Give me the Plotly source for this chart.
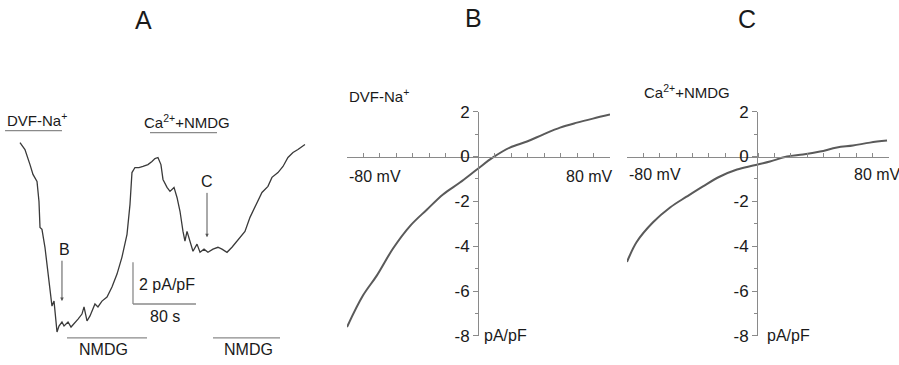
import plotly.graph_objects as go

# ---------------- data ----------------
# Panel A: current trace (time in s, current density in pA/pF, relative)
trace_t = [0, 6.3, 12.7, 16.5, 21.6, 24.1, 25.4, 27.9, 31.7, 35.6, 39.4, 40.6, 43.2, 45.7, 47.0,
           49.5, 53.3, 55.9, 61.0, 64.8, 68.6, 73.7, 78.7, 81.3, 85.1, 88.9, 95.2, 99.0, 104.1,
           110.5, 116.8, 123.2, 129.5, 135.9, 139.7, 142.2, 146.0, 151.1, 156.2, 162.5, 167.6,
           171.4, 175.2, 179.0, 181.6, 186.7, 190.5, 195.6, 199.4, 203.2, 207.0, 209.5, 212.1,
           215.9, 219.7, 224.8, 228.6, 233.7, 238.7, 245.1, 251.4, 256.5, 262.9, 269.2, 275.6,
           281.9, 285.7, 292.1, 298.4, 307.3, 314.9, 320.0, 327.6, 334.0, 340.3, 346.7, 353.0, 361.9]
trace_i = [-0.05, -0.38, -1.10, -1.57, -1.90, -2.86, -4.10, -4.19, -5.05, -6.33, -7.62, -7.86, -7.62,
           -8.48, -9.10, -8.81, -8.62, -8.81, -8.62, -8.86, -8.71, -8.48, -8.24, -7.90, -8.57, -8.33,
           -7.76, -7.90, -7.62, -7.43, -6.95, -6.33, -5.52, -4.43, -3.00, -1.48, -1.24, -1.24, -1.19,
           -1.10, -0.95, -0.81, -0.76, -1.10, -1.81, -2.19, -2.38, -2.19, -2.67, -3.33, -4.29, -4.76,
           -4.29, -4.76, -5.24, -4.90, -5.29, -5.14, -5.29, -5.14, -5.05, -5.14, -5.29, -5.05, -4.76,
           -4.43, -4.29, -3.62, -3.10, -2.43, -2.14, -1.71, -1.48, -1.19, -0.76, -0.52, -0.38, -0.14]

# Panel B: I-V in DVF-Na+
ivB_v = [-80, -70.3, -61.8, -52, -41.7, -31.3, -21.6, -11.3, -1, 8.8, 19.1, 29.5, 39.2, 49.6, 59.9, 69.6, 80]
ivB_i = [-7.6, -6.2, -5.3, -4.1, -3.1, -2.36, -1.69, -1.16, -0.58, -0.04, 0.4, 0.67, 0.98, 1.29, 1.51, 1.69, 1.87]

# Panel C: I-V in Ca2+ + NMDG
ivC_v = [-80, -74, -64.1, -53.7, -43.4, -33.6, -23.2, -12.8, -3, 7.3, 17.7, 27.5, 37.9, 48.2, 58, 68.4, 78.8]
ivC_i = [-4.7, -3.8, -2.93, -2.27, -1.78, -1.33, -0.89, -0.58, -0.4, -0.22, 0, 0.09, 0.22, 0.4, 0.49, 0.62, 0.71]

y_ticks = [2, 0, -2, -4, -6, -8]
y_tick_text = ["2", "0", "-2", "-4", "-6", "-8"]
x_ticks = list(range(-80, 81, 10))

W, H = 899, 365
FONT = "Liberation Sans, Arial, sans-serif"
AXC = "#8a8a8a"
TXT = "#1a1a1a"

# vertical placement calibration (screen px -> figure px)
SY, OY = 0.951, 9.0


def px(x):
    return x / W


def py(y):
    return min(1.0, max(0.0, 1 - ((y - OY) / SY) / H))


fig = go.Figure()

fig.add_trace(go.Scatter(x=trace_t, y=trace_i, mode="lines", xaxis="x", yaxis="y",
                         line=dict(color="#3a3a3a", width=1.3), showlegend=False, hoverinfo="skip"))
fig.add_trace(go.Scatter(x=ivB_v, y=ivB_i, mode="lines", xaxis="x2", yaxis="y2",
                         line=dict(color="#5a5a5a", width=2, shape="spline"), showlegend=False))
fig.add_trace(go.Scatter(x=ivC_v, y=ivC_i, mode="lines", xaxis="x3", yaxis="y3",
                         line=dict(color="#5a5a5a", width=2, shape="spline"), showlegend=False))

ydom = [py(337), py(112)]
x_axis_common = dict(range=[-80, 80], anchor="free", position=py(157), showline=True, linecolor=AXC,
                     linewidth=1, ticks="inside", ticklen=4, tickcolor=AXC, tickvals=x_ticks,
                     showticklabels=False, showgrid=False, zeroline=False, fixedrange=True)
y_axis_common = dict(range=[-8, 2], domain=ydom, anchor="free", showline=True, linecolor=AXC,
                     linewidth=1, ticks="outside", ticklen=5, tickcolor=AXC, tickvals=y_ticks,
                     ticktext=y_tick_text,
                     tickfont=dict(size=17, color=TXT, family=FONT), showgrid=False, zeroline=False,
                     minor=dict(dtick=1, ticks="outside", ticklen=3, tickcolor=AXC),
                     fixedrange=True)

# panel A: screen rows map to current (142 - row) / 21
A_top, A_bot = 100, 355
fig.update_layout(
    width=W, height=H, margin=dict(l=0, r=0, t=0, b=0),
    paper_bgcolor="white", plot_bgcolor="rgba(0,0,0,0)",
    font=dict(family=FONT, color=TXT),
    xaxis=dict(domain=[0, px(320)], range=[-25.4, 381], visible=False, fixedrange=True),
    yaxis=dict(domain=[py(A_bot), py(A_top)], range=[(142 - A_bot) / 21, (142 - A_top) / 21],
               visible=False, fixedrange=True),
    xaxis2=dict(domain=[px(347), px(610)], **x_axis_common),
    yaxis2=dict(position=px(478), **y_axis_common),
    xaxis3=dict(domain=[px(627), px(889)], **x_axis_common),
    yaxis3=dict(position=px(757), **y_axis_common),
)

ann = []


def paper_text(text, x, y, size=15, xanchor="left"):
    ann.append(dict(text=text, x=px(x), y=py(y), xref="paper", yref="paper", xanchor=xanchor,
                    yanchor="middle", showarrow=False, font=dict(size=size, color=TXT, family=FONT)))


def data_text(text, x, y, size=16, xanchor="center"):
    ann.append(dict(text=text, x=x, y=y, xref="x", yref="y", xanchor=xanchor, yanchor="middle",
                    showarrow=False, font=dict(size=size, color=TXT, family=FONT)))


# Panel titles
paper_text("A", 143, 20, size=25, xanchor="center")
paper_text("B", 473, 18, size=25, xanchor="center")
paper_text("C", 747, 19, size=25, xanchor="center")

# Panel A labels and solution bars
data_text("DVF-Na<sup>+</sup>", -19.0, 1.05, size=15, xanchor="left")
data_text("Ca<sup>2+</sup>+NMDG", 212, 0.95, size=15)
data_text("NMDG", 106, -9.92)
data_text("NMDG", 290.8, -9.92)
data_text("B", 57.1, -5.14)
data_text("C", 237.5, -1.90)
data_text("2 pA/pF", 148.6, -6.81, xanchor="left")
data_text("80 s", 184, -8.38)

bars = [(-19.0, 53.3, 0.52), (165.1, 250.2, 0.43), (59.7, 161.3, -9.38), (245.1, 330.2, -9.38)]
shapes = []
for x0, x1, yb in bars:
    shapes.append(dict(type="line", xref="x", yref="y", x0=x0, x1=x1, y0=yb, y1=yb,
                       line=dict(color="#8a8a8a", width=1.3)))
# scale bar
shapes.append(dict(type="line", xref="x", yref="y", x0=143.5, x1=143.5, y0=-7.76, y1=-5.76,
                   line=dict(color="#8a8a8a", width=1.3)))
shapes.append(dict(type="line", xref="x", yref="y", x0=143.5, x1=223.5, y0=-7.76, y1=-7.76,
                   line=dict(color="#8a8a8a", width=1.3)))

# arrows
for xa, y_tail, y_tip in [(53.3, -5.62, -7.62), (237.5, -2.38, -4.57)]:
    ann.append(dict(x=xa, y=y_tip, ax=xa, ay=y_tail, xref="x", yref="y", axref="x", ayref="y",
                    text="", showarrow=True, arrowhead=2, arrowsize=0.7, arrowwidth=1,
                    arrowcolor="#555555"))

# Panel B / C labels
paper_text("DVF-Na<sup>+</sup>", 347, 96)
paper_text("-80 mV", 347, 177, size=16)
paper_text("80 mV", 615, 177, size=16, xanchor="right")
paper_text("pA/pF", 482, 337, size=16)

paper_text("Ca<sup>2+</sup>+NMDG", 642, 92)
paper_text("-80 mV", 627, 175, size=16)
paper_text("80 mV", 852, 175, size=16)
paper_text("pA/pF", 765, 337, size=16)

fig.update_layout(annotations=ann, shapes=shapes)

fig.write_html("out.html", config={"displayModeBar": False},
               post_script="document.body.style.margin='0';document.body.style.overflow='hidden';")
